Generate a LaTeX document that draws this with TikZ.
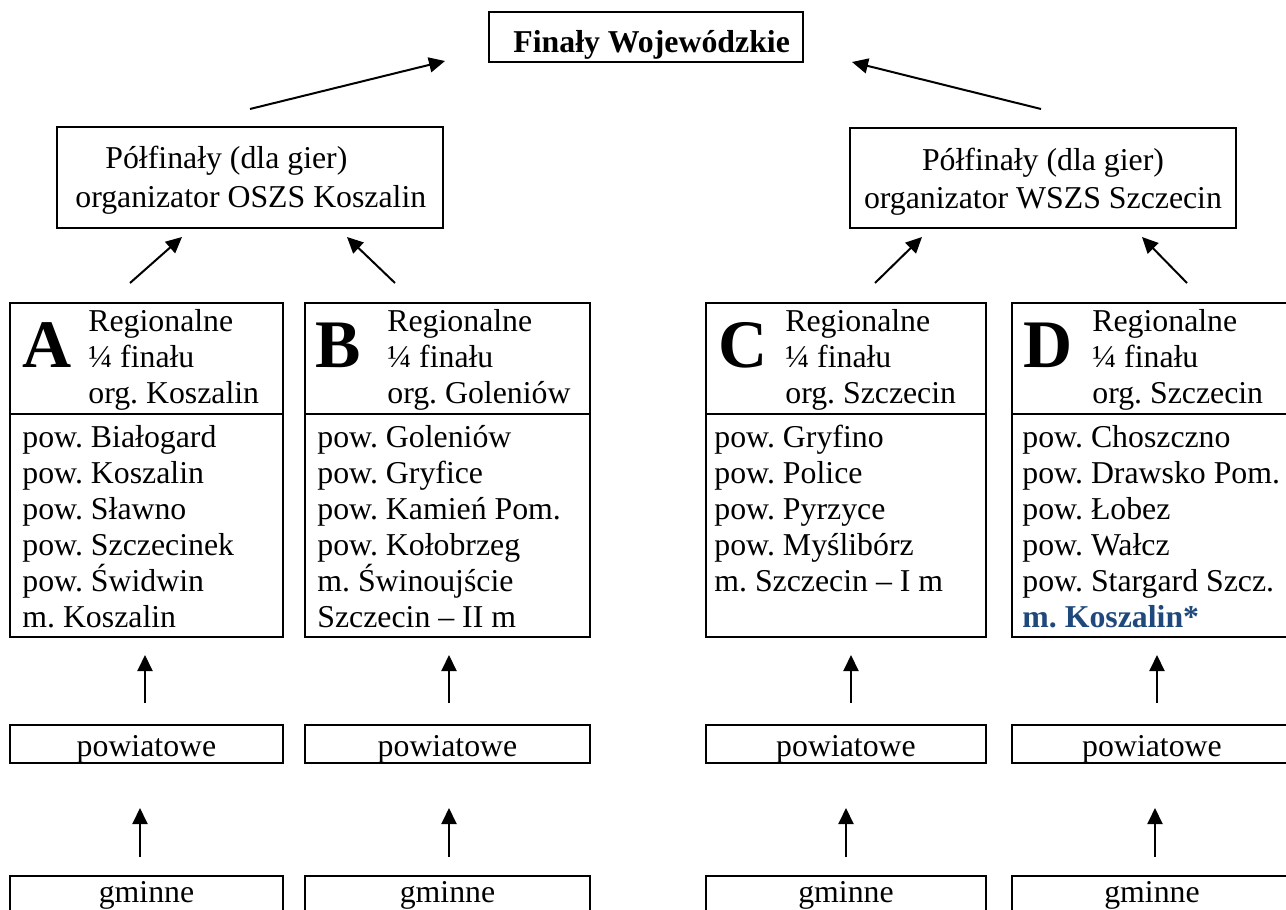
\documentclass[tikz,border=0pt]{standalone}
\usepackage{fontspec}
\setmainfont{Liberation Serif}
\usetikzlibrary{arrows.meta,fit,calc}
\definecolor{kblue}{RGB}{31,73,125}
\frenchspacing
\tikzset{
  frame/.style={draw, line width=1.1pt, inner sep=0pt, fit=#1},
  arr/.style={-{Triangle[length=8pt,width=7.5pt]}, line width=1pt},
  txt/.style={anchor=base west, inner sep=0pt, font=\fontsize{15.9}{18}\selectfont},
  ctxt/.style={anchor=base, inner sep=0pt, font=\fontsize{15.9}{18}\selectfont},
  big/.style={anchor=base west, inner sep=0pt, font=\fontsize{34}{34}\selectfont\bfseries},
}
\begin{document}
\begin{tikzpicture}[x=0.5pt,y=-0.5pt]
\useasboundingbox (0,0) rectangle (1286,910);

% title
\coordinate (t1) at (489,12); \coordinate (t2) at (803,62);
\node[frame={(t1)(t2)}] (T) {};
\node[txt, font=\fontsize{15.9}{18}\selectfont\bfseries] (Tt) at (513,52) {Finały Wojewódzkie};

% semifinals
\coordinate (s1a) at (57,127); \coordinate (s1b) at (443,228);
\node[frame={(s1a)(s1b)}] (S1) {};
\node[txt] (S1l1) at (105,168) {Półfinały (dla gier)};
\node[txt] (S1l2) at (75,207) {organizator OSZS Koszalin};

\coordinate (s2a) at (850,128); \coordinate (s2b) at (1236,228);
\node[frame={(s2a)(s2b)}] (S2) {};
\node[ctxt] (S2l1) at (1043,170) {Półfinały (dla gier)};
\node[ctxt] (S2l2) at (1043,208) {organizator WSZS Szczecin};

% arrows to title
\coordinate (ta1) at (250,109); \coordinate (ta2) at (445,61);
\coordinate (tb1) at (1041,109); \coordinate (tb2) at (852,62);
\draw[arr] (ta1) -- (ta2);
\draw[arr] (tb1) -- (tb2);

% arrows to semifinals
\coordinate (sa1) at (130,283); \coordinate (sa2) at (182,237);
\coordinate (sb1) at (395,283); \coordinate (sb2) at (347,237);
\coordinate (sc1) at (875,283); \coordinate (sc2) at (922,237);
\coordinate (sd1) at (1187,283); \coordinate (sd2) at (1142,237);
\draw[arr] (sa1) -- (sa2);
\draw[arr] (sb1) -- (sb2);
\draw[arr] (sc1) -- (sc2);
\draw[arr] (sd1) -- (sd2);

% regional boxes
\foreach \n/\xa/\xb in {A/10/283, B/305/590, C/706/986, D/1012/1292} {
  \coordinate (\n-nw) at (\xa,303); \coordinate (\n-se) at (\xb,637);
  \node[frame={(\n-nw)(\n-se)}] (R\n) {};
  \coordinate (\n-dl) at (\xa,414); \coordinate (\n-dr) at (\xb,414);
  \draw[line width=1.1pt] (\n-dl) -- (\n-dr);
  \coordinate (\n-p1) at (\xa,725); \coordinate (\n-p2) at (\xb,763);
  \node[frame={(\n-p1)(\n-p2)}] (P\n) {};
  \node[ctxt] (P\n t) at ($(\n-p1)!0.5!(\n-p2)+(0,12)$) {powiatowe};
  \coordinate (\n-g1) at (\xa,876); \coordinate (\n-g2) at (\xb,930);
  \node[frame={(\n-g1)(\n-g2)}] (G\n) {};
  \node[ctxt] (G\n t) at ($(\n-g1)!0.5!(\n-g2)+(0,-1)$) {gminne};
}

% headers
\node[big] (LA) at (22,367) {A};
\node[txt] (HA1) at (88,331) {Regionalne};
\node[txt] (HA2) at (88,367) {¼ finału};
\node[txt] (HA3) at (88,403) {org. Koszalin};

\node[big] (LB) at (315,367) {B};
\node[txt] (HB1) at (387,331) {Regionalne};
\node[txt] (HB2) at (387,367) {¼ finału};
\node[txt] (HB3) at (387,403) {org. Goleniów};

\node[big] (LC) at (718,367) {C};
\node[txt] (HC1) at (785,331) {Regionalne};
\node[txt] (HC2) at (785,367) {¼ finału};
\node[txt] (HC3) at (785,403) {org. Szczecin};

\node[big] (LD) at (1023,367) {D};
\node[txt] (HD1) at (1092,331) {Regionalne};
\node[txt] (HD2) at (1092,367) {¼ finału};
\node[txt] (HD3) at (1092,403) {org. Szczecin};

% lists
\foreach \t [count=\i from 0] in {pow. Białogard, pow. Koszalin, pow. Sławno, pow. Szczecinek, pow. Świdwin, m. Koszalin}
  \node[txt] (LA\i) at (22,447+36*\i) {\t};
\foreach \t [count=\i from 0] in {pow. Goleniów, pow. Gryfice, pow. Kamień Pom., pow. Kołobrzeg, m. Świnoujście, Szczecin – II m}
  \node[txt] (LB\i) at (317,447+36*\i) {\t};
\foreach \t [count=\i from 0] in {pow. Gryfino, pow. Police, pow. Pyrzyce, pow. Myślibórz, m. Szczecin – I m}
  \node[txt] (LC\i) at (714,447+36*\i) {\t};
\foreach \t [count=\i from 0] in {pow. Choszczno, pow. Drawsko Pom., pow. Łobez, pow. Wałcz, pow. Stargard Szcz.}
  \node[txt] (LD\i) at (1022,447+36*\i) {\t};
\node[txt, text=kblue, font=\fontsize{15.9}{18}\selectfont\bfseries] (LD5) at (1022,627) {m. Koszalin*};

% vertical arrows
\foreach \n/\xa/\xb in {A/145/140, B/449/449, C/851/846, D/1157/1155} {
  \coordinate (\n-u1) at (\xa,703); \coordinate (\n-u2) at (\xa,655);
  \draw[arr] (\n-u1) -- (\n-u2);
  \coordinate (\n-v1) at (\xb,857); \coordinate (\n-v2) at (\xb,808);
  \draw[arr] (\n-v1) -- (\n-v2);
}
\end{tikzpicture}
\end{document}
